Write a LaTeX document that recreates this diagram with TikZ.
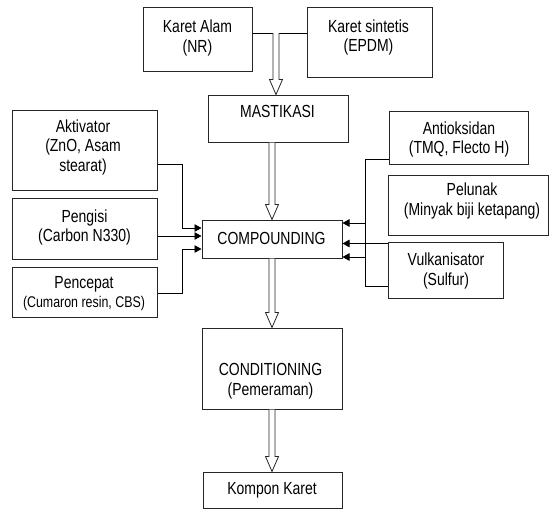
\documentclass[tikz,border=0pt]{standalone}
\usepackage{fontspec}
\setmainfont{Liberation Sans}[FakeStretch=0.8]
\usetikzlibrary{arrows.meta,calc}
\begin{document}
\begin{tikzpicture}[x=1pt,y=-1pt,
  box/.style={draw=black!85, line width=1pt, inner sep=0pt},
  txt/.style={inner sep=0pt, align=center, font=\fontsize{17.5}{19.5}\selectfont},
  conn/.style={draw=black, line width=0.9pt},
  tip/.style={-{Triangle[length=7pt,width=7.5pt]}},
  fat/.style={draw=black!85, line width=0.8pt, fill=white, line join=miter}]
\useasboundingbox (0,0) rectangle (549,509);
\newcommand\fatarrow[2]{\draw[fat] let \p1=#1, \p2=#2 in
  (\x1-3pt,\y1) -- (\x1-3pt,\y2+15pt) -- (\x1-6.5pt,\y2+15pt) -- (\x1,\y2)
  -- (\x1+6.5pt,\y2+15pt) -- (\x1+3pt,\y2+15pt) -- (\x1+3pt,\y1);}
% boxes
\node[box, minimum width=109, minimum height=64] (alam) at (197.5,39) {};
\node[box, minimum width=125, minimum height=70] (sint) at (369.5,42) {};
\node[box, minimum width=140, minimum height=47] (mast) at (278,118.5) {};
\node[box, minimum width=145, minimum height=80] (akt) at (84.5,150) {};
\node[box, minimum width=145, minimum height=61] (peng) at (84.5,228.5) {};
\node[box, minimum width=145, minimum height=50] (penc) at (84.5,292) {};
\node[box, minimum width=140, minimum height=38] (comp) at (272,239) {};
\node[box, minimum width=139, minimum height=53] (anti) at (458.5,137.5) {};
\node[box, minimum width=160, minimum height=60] (pelu) at (468,205) {};
\node[box, minimum width=115, minimum height=56] (vulk) at (445.5,270) {};
\node[box, minimum width=140, minimum height=81] (cond) at (272,368.5) {};
\node[box, minimum width=139, minimum height=36] (komp) at (272.5,490) {};
% texts
\node[txt] (alam-t) at (197.5,38) {Karet Alam\\(NR)};
\node[txt] (sint-t) at (368.5,37.5) {Karet sintetis\\(EPDM)};
\node[txt] (mast-t) at (277.5,111) {MASTIKASI};
\node[txt] (akt-t) at (83,147) {Aktivator\\(ZnO, Asam\\stearat)};
\node[txt] (peng-t) at (84.5,227.5) {Pengisi\\(Carbon N330)};
\node[txt] (penc-t) at (84,293.5) {Pencepat\\{\fontsize{15.5}{18}\selectfont (Cumaron resin, CBS)}};
\node[txt] (comp-t) at (271.5,238.5) {COMPOUNDING};
\node[txt] (anti-t) at (459,139.5) {Antioksidan\\(TMQ, Flecto H)};
\node[txt] (pelu-t) at (472,201) {Pelunak\\(Minyak biji ketapang)};
\node[txt] (vulk-t) at (446,271) {Vulkanisator\\(Sulfur)};
\node[txt] (cond-t) at (270.5,381) {CONDITIONING\\(Pemeraman)};
\node[txt] (komp-t) at (272,490) {Kompon Karet};
% top join
\coordinate (join) at (276,33);
\draw[conn] (alam.east |- join) -- (sint.west |- join);
\fatarrow{(join)}{(mast.north -| join)}
\fatarrow{(mast.south -| comp.north)}{(comp.north)}
\fatarrow{(comp.south)}{(cond.north)}
\fatarrow{(cond.south)}{(komp.north)}
% left connectors
\coordinate (lbus) at (182,164);
\draw[conn,tip] (akt.east |- lbus) -- (lbus) -- (182,228) -- (comp.west |- 0,228);
\draw[conn,tip] (peng.east |- 0,236) -- (comp.west |- 0,236);
\draw[conn,tip] (penc.east |- 0,293) -- (182,293) -- (182,249) -- (comp.west |- 0,249);
% right connectors
\coordinate (rbus) at (365,159);
\draw[conn,tip] (anti.west |- rbus) -- (rbus) -- (365,223) -- (comp.east |- 0,223);
\draw[conn] (365,223) -- (365,286) -- (vulk.west |- 0,286);
\draw[conn,tip] (vulk.west |- 0,243.5) -- (comp.east |- 0,243.5);
\draw[conn,tip] (365,257) -- (comp.east |- 0,257);
\end{tikzpicture}
\end{document}
